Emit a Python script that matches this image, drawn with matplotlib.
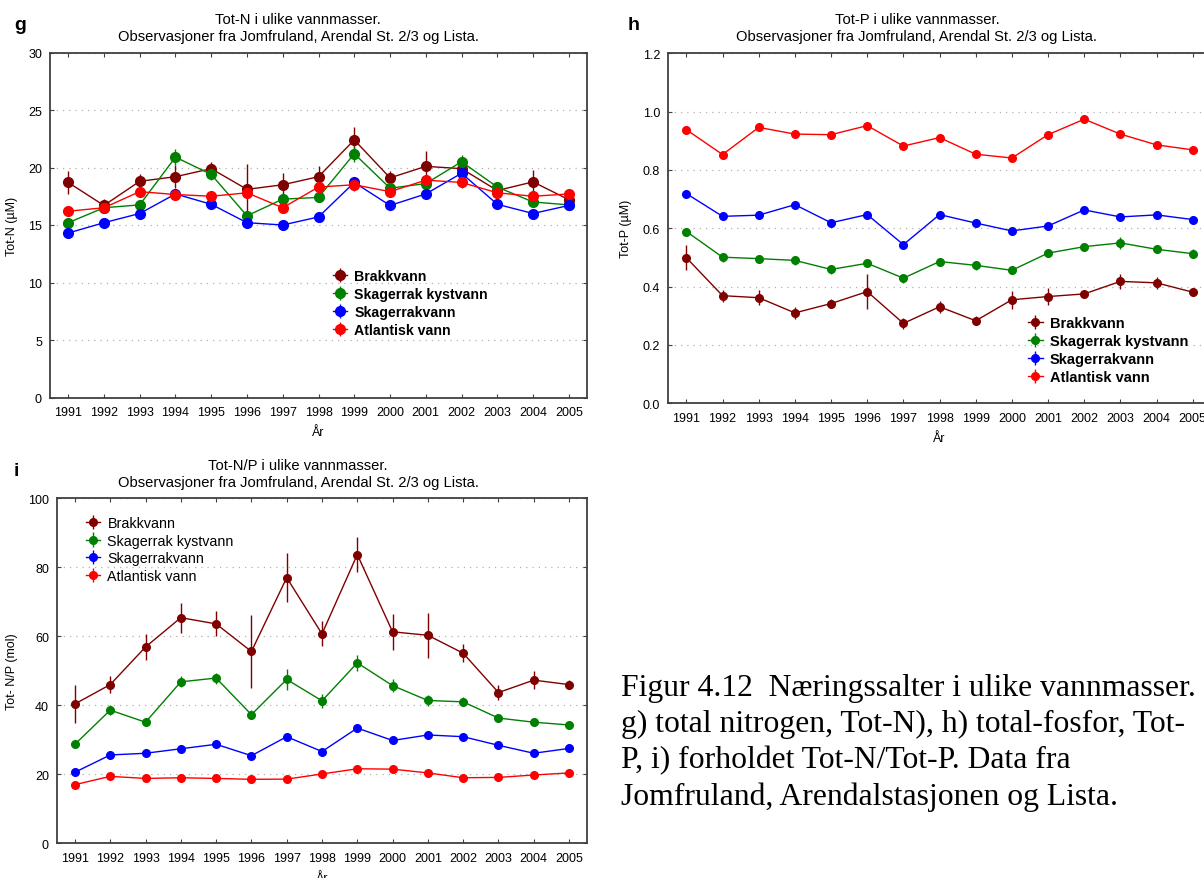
import matplotlib
matplotlib.use("Agg")
import matplotlib.pyplot as plt
import numpy as np

plt.rcParams['font.family'] = ['Liberation Sans', 'DejaVu Sans']

years = list(range(1991, 2006))
series_names = ["Brakkvann", "Skagerrak kystvann", "Skagerrakvann", "Atlantisk vann"]
colors = ["#800000", "#008000", "#0000FF", "#FF0000"]

# Panel g: Tot-N (uM)
totn_brakk = [18.7, 16.7, 18.8, 19.2, 19.9, 18.1, 18.5, 19.2, 22.4, 19.1, 20.1, 19.9, 18.0, 18.75, 17.2]
totn_kyst = [15.2, 16.5, 16.75, 20.9, 19.4, 15.8, 17.25, 17.4, 21.2, 18.2, 18.6, 20.5, 18.3, 17.0, 16.75]
totn_skag = [14.3, 15.2, 16.0, 17.7, 16.8, 15.2, 15.0, 15.7, 18.7, 16.7, 17.7, 19.5, 16.8, 16.0, 16.7]
totn_atl = [16.2, 16.5, 17.9, 17.65, 17.5, 17.8, 16.5, 18.3, 18.5, 17.9, 18.9, 18.7, 17.8, 17.5, 17.7]
totn_brakk_err = [1.0, 0.6, 0.6, 1.0, 0.6, 2.2, 1.0, 0.9, 1.1, 0.6, 1.3, 0.5, 0.4, 1.0, 0.4]
totn_kyst_err = [0.4, 0.4, 0.4, 0.7, 0.5, 0.4, 0.5, 0.4, 0.7, 0.4, 0.4, 0.6, 0.4, 0.3, 0.3]
totn_skag_err = [0.3, 0.3, 0.3, 0.4, 0.3, 0.3, 0.3, 0.3, 0.4, 0.3, 0.3, 0.4, 0.3, 0.3, 0.3]
totn_atl_err = [0.3, 0.3, 0.3, 0.4, 0.3, 0.3, 0.3, 0.3, 0.5, 0.3, 0.3, 0.5, 0.3, 0.3, 0.3]

# Panel h: Tot-P (uM)
totp_brakk = [0.499, 0.369, 0.362, 0.310, 0.342, 0.383, 0.274, 0.331, 0.283, 0.355, 0.366, 0.375, 0.418, 0.413, 0.381]
totp_kyst = [0.589, 0.501, 0.496, 0.490, 0.459, 0.480, 0.429, 0.486, 0.473, 0.456, 0.515, 0.537, 0.550, 0.528, 0.513]
totp_skag = [0.719, 0.641, 0.645, 0.681, 0.619, 0.647, 0.544, 0.647, 0.618, 0.591, 0.608, 0.663, 0.639, 0.646, 0.630]
totp_atl = [0.938, 0.853, 0.946, 0.923, 0.921, 0.952, 0.882, 0.911, 0.854, 0.841, 0.921, 0.974, 0.923, 0.886, 0.869]
totp_brakk_err = [0.043, 0.02, 0.025, 0.02, 0.015, 0.06, 0.02, 0.02, 0.015, 0.03, 0.03, 0.01, 0.025, 0.02, 0.01]
totp_kyst_err = [0.012, 0.015, 0.01, 0.015, 0.015, 0.01, 0.015, 0.012, 0.015, 0.01, 0.015, 0.01, 0.02, 0.012, 0.015]
totp_skag_err = [0.01] * 15
totp_atl_err = [0.012, 0.008, 0.008, 0.008, 0.008, 0.008, 0.008, 0.008, 0.008, 0.008, 0.008, 0.008, 0.008, 0.008, 0.008]

# Panel i: Tot-N/P (mol)
np_brakk = [40.4, 46.0, 56.9, 65.4, 63.6, 55.6, 77.0, 60.7, 83.7, 61.3, 60.3, 55.1, 43.7, 47.3, 46.0]
np_kyst = [28.7, 38.6, 35.1, 46.8, 47.9, 37.3, 47.5, 41.3, 52.3, 45.7, 41.4, 41.0, 36.3, 35.1, 34.3]
np_skag = [20.6, 25.6, 26.1, 27.4, 28.7, 25.4, 30.9, 26.6, 33.4, 29.8, 31.4, 30.9, 28.4, 26.1, 27.5]
np_atl = [17.0, 19.4, 18.8, 19.0, 18.8, 18.55, 18.6, 20.1, 21.6, 21.5, 20.4, 19.0, 19.1, 19.8, 20.4]
np_brakk_err = [5.5, 2.5, 3.8, 4.3, 3.6, 10.5, 7.2, 3.6, 5.2, 5.3, 6.5, 2.6, 2.3, 2.5, 1.3]
np_kyst_err = [1.0, 1.5, 1.0, 1.6, 1.6, 1.3, 3.0, 2.0, 2.3, 1.8, 1.5, 1.3, 0.8, 0.8, 0.8]
np_skag_err = [0.8] * 15
np_atl_err = [0.6] * 15

title_line1 = ["Tot-N i ulike vannmasser.", "Tot-P i ulike vannmasser.", "Tot-N/P i ulike vannmasser."]
title_line2 = "Observasjoner fra Jomfruland, Arendal St. 2/3 og Lista."
ylabels = ["Tot-N (\u00b5M)", "Tot-P (\u00b5M)", "Tot- N/P (mol)"]
xlabel = "\u00c5r"
caption = ("Figur 4.12  N\u00e6ringssalter i ulike vannmasser.\n"
           "g) total nitrogen, Tot-N), h) total-fosfor, Tot-\n"
           "P, i) forholdet Tot-N/Tot-P. Data fra\n"
           "Jomfruland, Arendalstasjonen og Lista.")

W, H = 1204, 879
fig = plt.figure(figsize=(W / 100, H / 100), dpi=100)


def px_axes(left, top, right, bottom):
    return fig.add_axes([left / W, 1 - bottom / H, (right - left) / W, (bottom - top) / H])


def style_axes(ax, ylim, yticks, yfmt):
    ax.set_xlim(1990.5, 2005.5)
    ax.set_ylim(*ylim)
    ax.set_xticks(years)
    ax.set_yticks(yticks)
    ax.set_yticklabels([yfmt.format(v) for v in yticks])
    ax.tick_params(direction='in', top=True, right=True, length=3, width=0.8,
                   labelsize=9, color='#404040', pad=6)
    for s in ax.spines.values():
        s.set_color('#404040')
        s.set_linewidth(1.3)
    ax.yaxis.grid(True, linestyle=(0, (1, 4)), color='#b0b0b0', linewidth=0.9)
    ax.set_axisbelow(True)
    ax.set_xlabel(xlabel, fontsize=9, labelpad=6)


def draw(ax, data, errs, ms, legend_kw, legend_pos):
    handles = []
    for vals, err, c, name in zip(data, errs, colors, series_names):
        h = ax.errorbar(years, vals, yerr=err, color=c, ecolor=c, marker='o',
                        markersize=ms, linewidth=1.0, elinewidth=1.0, capsize=0,
                        label=name)
        handles.append(h)
    leg = ax.legend(handles, series_names, loc='upper left',
                    bbox_to_anchor=(legend_pos[0] / W, 1 - legend_pos[1] / H),
                    bbox_transform=fig.transFigure, frameon=False, borderpad=0,
                    borderaxespad=0, handlelength=1.0, handletextpad=0.5,
                    **legend_kw)
    return leg


# Panel g
axg = px_axes(50.3, 53.5, 586.7, 398.5)
style_axes(axg, (0, 30), [0, 5, 10, 15, 20, 25, 30], "{:.0f}")
draw(axg, [totn_brakk, totn_kyst, totn_skag, totn_atl],
     [totn_brakk_err, totn_kyst_err, totn_skag_err, totn_atl_err], 7,
     dict(prop={'weight': 'bold', 'size': 10.2}, labelspacing=0.28), (333, 270))
axg.set_ylabel(ylabels[0], fontsize=9)
axg.yaxis.set_label_coords(-0.060, 0.5)

# Panel h
axh = px_axes(668.3, 54.3, 1210.8, 404.3)
style_axes(axh, (0, 1.2), [0.0, 0.2, 0.4, 0.6, 0.8, 1.0, 1.2], "{:.1f}")
draw(axh, [totp_brakk, totp_kyst, totp_skag, totp_atl],
     [totp_brakk_err, totp_kyst_err, totp_skag_err, totp_atl_err], 5.5,
     dict(prop={'weight': 'bold', 'size': 10.5}, labelspacing=0.28), (1028, 317))
axh.set_ylabel(ylabels[1], fontsize=9)
axh.yaxis.set_label_coords(-0.067, 0.5)

# Panel i
axi = px_axes(57.3, 499.3, 586.7, 844.3)
style_axes(axi, (0, 100), [0, 20, 40, 60, 80, 100], "{:.0f}")
draw(axi, [np_brakk, np_kyst, np_skag, np_atl],
     [np_brakk_err, np_kyst_err, np_skag_err, np_atl_err], 5.5,
     dict(prop={'size': 10.3}, labelspacing=0.25), (86, 517))
axi.set_ylabel(ylabels[2], fontsize=9)
axi.yaxis.set_label_coords(-0.074, 0.5)

# Titles and panel letters
for (cx, y1, y2), t1 in zip([(298, 20, 37), (917, 20, 37), (298, 466, 483)], title_line1):
    fig.text(cx / W, 1 - y1 / H, t1, ha='center', va='center', fontsize=10.6)
    fig.text(cx / W, 1 - y2 / H, title_line2, ha='center', va='center', fontsize=10.6)

for (x, y), letter in zip([(20, 26), (634, 26), (16, 472)], ["g", "h", "i"]):
    fig.text(x / W, 1 - y / H, letter, ha='center', va='center', fontsize=14, fontweight='bold')

fig.text(621 / W, 1 - 674 / H, caption, ha='left', va='top', fontsize=22.8,
         family=['Liberation Serif', 'DejaVu Serif'], linespacing=1.31)

fig.savefig("out.png", dpi=100)
